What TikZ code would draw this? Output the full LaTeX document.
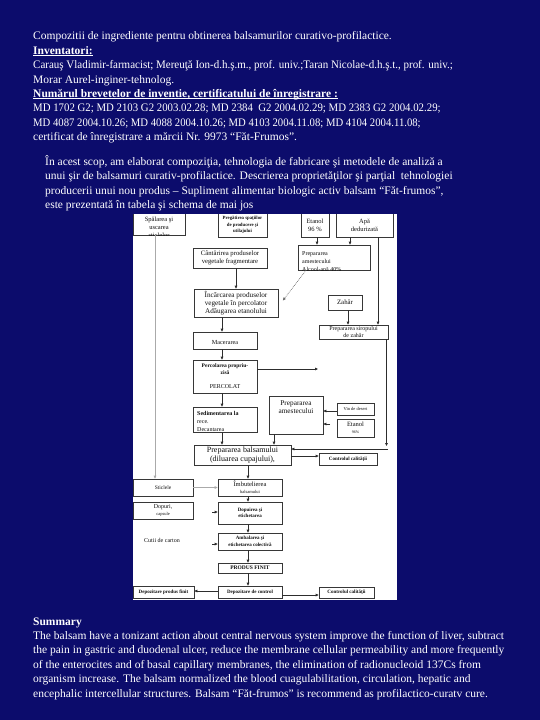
\documentclass[tikz,border=0pt]{standalone}
\usepackage{graphicx}
\usepackage{fontspec}
\setmainfont{Liberation Serif}
\usetikzlibrary{arrows.meta}
\definecolor{navybg}{RGB}{12,12,108}
\definecolor{boxline}{RGB}{55,55,55}
\definecolor{conn}{RGB}{45,45,45}
\definecolor{connlight}{RGB}{170,170,170}
\definecolor{boxtext}{RGB}{15,15,15}
\newcommand\myfs[2]{\fontsize{#1}{#2}\selectfont}
\newcommand\ulsm[1]{\underline{\smash{#1}}}
\tikzset{
  txt/.style={anchor=base west, inner sep=0pt, text=white, font=\myfs{11.5}{14}},
  bx/.style={rectangle, draw=boxline, line width=0.7pt, fill=white, inner sep=0.5pt, align=center, text=boxtext},
  lbl/.style={inner sep=0pt, text=boxtext},
  arr/.style={draw=conn, line width=0.7pt, -{Triangle[length=3pt,width=2.6pt]}},
  arrlight/.style={arr, draw=connlight},
  dotarr/.style={arr, densely dotted, draw=conn!70},
}
\begin{document}
\begin{tikzpicture}[x=1pt,y=-1pt]
\fill[navybg] (0,0) rectangle (540,720);
\useasboundingbox (0,0) rectangle (540,720);
% top text
\node[txt] (t1) at (33,39.5) {Compozitii de ingrediente pentru obtinerea balsamurilor curativo-profilactice.};
\node[txt] (t2) at (33,54) {\textbf{\ulsm{Inventatori:}}};
\node[txt] (t3) at (33,68.5) {\scalebox{0.955}[1]{Carauş Vladimir-farmacist; Mereuţă Ion-d.h.ş.m., prof. univ.;Taran Nicolae-d.h.ş.t., prof. univ.;}};
\node[txt] (t4) at (33,83) {Morar Aurel-inginer-tehnolog.};
\node[txt] (t5) at (33,97) {\textbf{\ulsm{Numărul brevetelor de inventie, certificatului de înregistrare :}}};
\node[txt] (t6) at (33,111.5) {\scalebox{0.94}[1]{MD 1702 G2; MD 2103 G2 2003.02.28; MD 2384\ \ G2 2004.02.29; MD 2383 G2 2004.02.29;}};
\node[txt] (t7) at (33,126) {\scalebox{0.93}[1]{MD 4087 2004.10.26; MD 4088 2004.10.26; MD 4103 2004.11.08; MD 4104 2004.11.08;}};
\node[txt] (t8) at (33,140) {certificat de înregistrare a mărcii Nr. 9973 “Făt-Frumos”.};
% second block
\node[txt] (b1) at (45,165) {În acest scop, am elaborat compoziţia, tehnologia de fabricare şi metodele de analiză a};
\node[txt] (b2) at (45,179.5) {unui şir de balsamuri curativ-profilactice. Descrierea proprietăţilor şi parţial\ \ tehnologiei};
\node[txt] (b3) at (45,194) {producerii unui nou produs – Supliment alimentar biologic activ balsam “Făt-frumos”,};
\node[txt] (b4) at (45,208) {este prezentată în tabela şi schema de mai jos};
% summary
\node[txt] (s0) at (33,625) {\textbf{Summary}};
\node[txt] (s1) at (33,639.5) {The balsam have a tonizant action about central nervous system improve the function of liver, subtract};
\node[txt] (s2) at (33,653.5) {the pain in gastric and duodenal ulcer, reduce the membrane cellular permeability and more frequently};
\node[txt] (s3) at (33,668) {of the enterocites and of basal capillary membranes, the elimination of radionucleoid 137Cs from};
\node[txt] (s4) at (33,682.5) {organism increase. The balsam normalized the blood cuagulabilitation, circulation, hepatic and};
\node[txt] (s5) at (33,697) {encephalic intercellular structures. Balsam “Făt-frumos” is recommend as profilactico-curatv cure.};
% flowchart
\fill[white] (133,214) rectangle (397,600);
\begin{scope}
\clip (133,214) rectangle (397,600);
\node[bx, minimum width=52pt, minimum height=22pt] (spal) at (159,224) {};
\begin{scope}
\clip (spal.south west) rectangle (spal.north east);
\node[lbl, anchor=north, align=center, font=\myfs{6.5}{8}] (spalt) at (159,216.5) {Spălarea şi\\uscarea\\sticlelor};
\end{scope}
\node[bx, minimum width=49pt, minimum height=24pt, font=\bfseries\myfs{4.8}{6.3}] (preg) at (242.5,225) {Pregătirea spaţiilor\\de producere şi\\utilajului};
\node[bx, minimum width=28pt, minimum height=24pt, font=\myfs{6.5}{8}] (etan1) at (315,225) {Etanol\\96 \%};
\node[bx, minimum width=57pt, minimum height=24pt, font=\myfs{6.5}{8}] (apa) at (364.5,225) {Apă\\dedurizată};
\node[bx, minimum width=74pt, minimum height=20pt, font=\myfs{6.7}{8}] (cant) at (230,258) {Cântărirea produselor\\vegetale fragmentare};
\node[bx, minimum width=72pt, minimum height=25pt] (amest1) at (334,257.5) {};
\begin{scope}
\clip (amest1.south west) rectangle (amest1.north east);
\node[lbl, anchor=north west, align=left, font=\myfs{6}{8}] (amest1t) at (302,251.5) {Prepararea\\amestecului\\Alcool-apă 40\%};
\end{scope}
\node[bx, minimum width=84pt, minimum height=28pt, font=\myfs{7.2}{8.3}] (incarc) at (236,303) {Încărcarea produselor\\vegetale în percolator\\Adăugarea etanolului};
\node[bx, minimum width=34pt, minimum height=15pt, font=\myfs{6.8}{8}] (zahar) at (345,302.5) {Zahăr};
\node[bx, minimum width=69pt, minimum height=14pt, font=\myfs{6}{6.5}] (sirop) at (353.5,332) {Prepararea siropului\\de zahăr};
\node[bx, minimum width=64pt, minimum height=17pt, font=\myfs{6.2}{8}] (macer) at (225,340.5) {\mbox{}\\Macerarea};
\node[bx, minimum width=64pt, minimum height=33pt, font=\myfs{5.5}{7}] (percol) at (225,376.5) {\textbf{Percolarea propriu-}\\\textbf{zisă}\\[7pt]{\myfs{6}{7}PERCOLAT}};
\node[bx, minimum width=64pt, minimum height=25pt] (sedim) at (225,419.5) {};
\begin{scope}
\clip (sedim.south west) rectangle (sedim.north east);
\node[lbl, anchor=north west, align=left, font=\myfs{6}{8}] (sedimt) at (197,411) {\textbf{Sedimentarea la}\\rece.\\Decantarea};
\end{scope}
\node[bx, minimum width=54pt, minimum height=38pt, font=\myfs{7.3}{8}] (amest2) at (296,415) {Prepararea\\amestecului\\\mbox{}\\\mbox{}};
\node[bx, minimum width=37pt, minimum height=12pt, font=\myfs{4.5}{5}] (vin) at (355.5,409) {Vin de desert};
\node[bx, minimum width=37pt, minimum height=18pt, font=\myfs{6.5}{7}] (etan2) at (355.5,428) {Etanol\\{\myfs{4}{5}96\%}};
\node[bx, minimum width=97pt, minimum height=20pt, font=\myfs{8}{8.5}] (balsam) at (242.5,455) {Prepararea balsamului\\(diluarea cupajului),};
\node[bx, minimum width=58pt, minimum height=12pt, font=\bfseries\myfs{5}{6}] (ctrl1) at (348,459) {Controlul calităţii};
\node[bx, minimum width=60pt, minimum height=17pt, font=\myfs{5.5}{6}] (stic) at (163,487.5) {Sticlele};
\node[bx, minimum width=64pt, minimum height=17pt, font=\myfs{6.5}{7}] (imbut) at (250,487.5) {Îmbutelierea\\{\myfs{4.5}{5}balsamului}};
\node[bx, minimum width=60pt, minimum height=17pt, font=\myfs{6}{7}] (dopuri) at (163,510.5) {Dopuri,\\{\myfs{4.5}{5}capsule}};
\node[bx, minimum width=64pt, minimum height=22pt, font=\bfseries\myfs{5}{6.5}] (dopuir) at (250,513) {Dopuirea şi\\etichetarea};
\node[lbl, font=\myfs{6}{7}] (cutii) at (162,540) {Cutii de carton};
\node[bx, minimum width=64pt, minimum height=17pt, font=\bfseries\myfs{5}{6.5}] (ambal) at (250,541.5) {Ambalarea şi\\etichetarea colectivă};
\node[bx, minimum width=64pt, minimum height=10pt, font=\bfseries\myfs{5.5}{6}] (produs) at (250,568) {PRODUS FINIT};
\node[bx, minimum width=64pt, minimum height=12pt, font=\bfseries\myfs{5}{6}] (depctrl) at (250,592) {Depozitare de control};
\node[bx, minimum width=61pt, minimum height=12pt, font=\bfseries\myfs{5}{6}] (depfin) at (163.5,592) {Depozitare produs finit};
\node[bx, minimum width=55pt, minimum height=11pt, font=\bfseries\myfs{5}{6}] (ctrl2) at (346.5,592.5) {Controlul calităţii};
% connectors
\draw[arrlight] ([xshift=-4pt]spal.south) -- ([xshift=-8pt]stic.north);
\draw[arr] ([xshift=2pt]etan1.south) -- ([xshift=-17pt]amest1.north);
\draw[arr] ([xshift=-14.5pt]apa.south) -- ([xshift=16pt]amest1.north);
\draw[arr] ([xshift=13.5pt]apa.south) -- ([xshift=24.5pt]sirop.north);
\draw[arr] ([xshift=6pt]cant.south) -- (incarc.north);
\draw[dotarr] ([xshift=-28pt]amest1.south) -- ([xshift=4.5pt,yshift=2.5pt]incarc.east);
\draw[arr] ([xshift=3pt]zahar.south) -- ([xshift=-5.5pt]sirop.north);
\draw[arr] ([xshift=-14pt]incarc.south) -- ([xshift=-3pt]macer.north);
\draw[arr] ([xshift=-3pt]macer.south) -- ([xshift=-3pt]percol.north);
\coordinate (pfree) at (318,369);
\draw[arr] ([yshift=7.5pt]percol.east) -- (pfree);
\draw[arr] ([xshift=-3pt]percol.south) -- ([xshift=-3pt]sedim.north);
\draw[arr] ([yshift=-2pt]vin.west) -- ([yshift=4pt]amest2.east);
\coordinate (e2s) at (330,424);
\draw[arr] (e2s) -- ([yshift=-9pt]amest2.east);
\draw[arr] ([xshift=-3pt]sedim.south) -- ([xshift=-20.5pt]balsam.north);
\draw[arr] ([xshift=-22pt]amest2.south) -- ([xshift=31.5pt]balsam.north);
\coordinate (sdown) at (386.5,446);
\draw[arr] ([xshift=33pt]sirop.south) -- (sdown);
\coordinate (sleft) at (388,449);
\draw[arr] (sleft) -- ([yshift=6pt]balsam.east);
\draw[arr] ([yshift=-1pt]balsam.east) -- ([yshift=3pt]ctrl1.west);
\draw[arr] ([xshift=5.5pt]balsam.south) -- ([xshift=-2pt]imbut.north);
\draw[arrlight] (stic.east) -- (imbut.west);
\coordinate (dtip) at (212,512);
\draw[arr] (dtip) -- ([yshift=1pt]dopuir.west);
\coordinate (ctip) at (212,544);
\draw[arr] (ctip) -- ([yshift=-2.5pt]ambal.west);
\draw[arr] ([xshift=-2pt]imbut.south) -- ([xshift=-2pt]dopuir.north);
\draw[arr] ([xshift=-2pt]dopuir.south) -- ([xshift=-2pt]ambal.north);
\draw[arr] ([xshift=-2pt]ambal.south) -- ([xshift=-2pt]produs.north);
\draw[arr] ([xshift=-2pt]produs.south) -- ([xshift=-2pt]depctrl.north);
\draw[arr] ([yshift=1pt]depctrl.west) -- ([yshift=1pt]depfin.east);
\draw[arr] ([yshift=-3pt]depctrl.east) -- ([yshift=-2.5pt]ctrl2.west);
\end{scope}
\end{tikzpicture}
\end{document}
